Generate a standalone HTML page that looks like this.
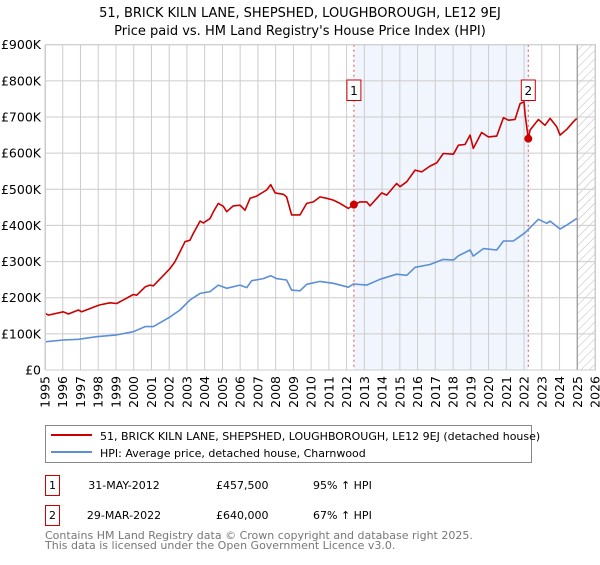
<!DOCTYPE html>
<html><head><meta charset="utf-8"><style>
body{margin:0;background:#fff;font-family:"Liberation Sans","DejaVu Sans",sans-serif;}
svg text{font-family:"DejaVu Sans","Liberation Sans",sans-serif;}
</style></head><body>
<svg id="c" width="600" height="560" viewBox="0 0 600 560" xmlns="http://www.w3.org/2000/svg">
<text x="300" y="17" text-anchor="middle" font-size="13" fill="#000">51, BRICK KILN LANE, SHEPSHED, LOUGHBOROUGH, LE12 9EJ</text>
<text x="300" y="35" text-anchor="middle" font-size="13" fill="#000">Price paid vs. HM Land Registry's House Price Index (HPI)</text>
<defs><pattern id="h" width="6" height="6" patternUnits="userSpaceOnUse" patternTransform="rotate(45)"><line x1="0" y1="0" x2="0" y2="6" stroke="#bbb" stroke-width="1"/></pattern></defs>
<g id="grid"></g><g id="marks"></g>
<g>
<rect x="45.5" y="425.5" width="486" height="37" fill="#fff" stroke="#888"/>
<line x1="51" y1="435" x2="92" y2="435" stroke="#cc0000" stroke-width="2"/>
<text x="100" y="440" font-size="11">51, BRICK KILN LANE, SHEPSHED, LOUGHBOROUGH, LE12 9EJ (detached house)</text>
<line x1="51" y1="452" x2="92" y2="452" stroke="#5b8fd6" stroke-width="2"/>
<text x="100" y="457" font-size="11">HPI: Average price, detached house, Charnwood</text>
</g>
<g font-size="11">
<rect x="45.5" y="475.5" width="14" height="20" fill="#fff" stroke="#cc0000"/>
<text x="52.5" y="489" text-anchor="middle">1</text>
<text x="124" y="489" text-anchor="middle">31-MAY-2012</text>
<text x="216" y="489">£457,500</text>
<text x="313" y="489">95% ↑ HPI</text>
<rect x="45.5" y="505.5" width="14" height="20" fill="#fff" stroke="#cc0000"/>
<text x="52.5" y="519" text-anchor="middle">2</text>
<text x="124" y="519" text-anchor="middle">29-MAR-2022</text>
<text x="216" y="519">£640,000</text>
<text x="313" y="519">67% ↑ HPI</text>
</g>
<text x="45" y="539" font-size="11" fill="#777">Contains HM Land Registry data © Crown copyright and database right 2025.</text>
<text x="45" y="549" font-size="11" fill="#777">This data is licensed under the Open Government Licence v3.0.</text>
</svg>
<script>
const yTicks=[0,100000,200000,300000,400000,500000,600000,700000,800000,900000];
const yTickLabels=["£0","£100K","£200K","£300K","£400K","£500K","£600K","£700K","£800K","£900K"];
const xYears=[1995,1996,1997,1998,1999,2000,2001,2002,2003,2004,2005,2006,2007,2008,2009,2010,2011,2012,2013,2014,2015,2016,2017,2018,2019,2020,2021,2022,2023,2024,2025,2026];
const redYears=[1995.0,1995.19,1996.03,1996.32,1996.88,1997.07,1997.91,1998.1,1998.66,1999.04,1999.42,1999.98,2000.17,2000.64,2000.92,2001.11,2002.05,2002.33,2002.61,2002.89,2003.17,2003.36,2003.74,2003.93,2004.3,2004.49,2004.77,2005.05,2005.24,2005.61,2005.99,2006.27,2006.56,2006.93,2007.49,2007.72,2007.97,2008.43,2008.62,2008.9,2009.37,2009.75,2010.13,2010.5,2010.88,2011.25,2011.63,2012.1,2012.41,2012.76,2013.13,2013.32,2013.7,2013.98,2014.26,2014.82,2015.01,2015.39,2015.86,2016.23,2016.7,2017.08,2017.45,2018.02,2018.3,2018.67,2018.96,2019.14,2019.61,2019.99,2020.46,2020.84,2021.12,2021.49,2021.78,2022.0,2022.06,2022.24,2022.34,2022.81,2023.18,2023.47,2023.84,2024.03,2024.41,2024.78,2024.97];
const redValues=[157,152,161,155,166,161,177,180,186,184,194,209,207,230,235,233,281,300,327,355,359,378,412,407,419,438,461,453,438,454,456,442,475,481,498,513,490,486,479,429,429,461,465,479,475,470,461,447,457.5,465,465,454,475,490,484,516,507,521,553,548,564,573,599,597,622,624,650,613,657,645,647,698,691,693,737,742,707,640,664,693,677,696,673,650,666,687,696];
const blueYears=[1995.0,1996.03,1996.88,1997.91,1999.04,1999.98,2000.64,2001.11,2002.05,2002.61,2003.17,2003.74,2004.3,2004.77,2005.24,2005.99,2006.37,2006.65,2007.3,2007.72,2008.05,2008.62,2008.9,2009.37,2009.75,2010.5,2011.25,2012.1,2012.38,2013.13,2013.88,2014.82,2015.39,2015.86,2016.7,2017.45,2018.02,2018.3,2018.96,2019.14,2019.71,2020.46,2020.84,2021.4,2022.06,2022.81,2023.28,2023.47,2024.03,2024.41,2024.97];
const blueValues=[78,83,85,92,97,106,120,120,147,166,194,212,217,235,226,235,228,247,253,261,253,249,221,219,237,245,240,229,238,235,251,265,262,284,292,306,304,316,332,315,336,332,357,357,380,417,406,412,390,401,419];
const saleYears=[2012.41,2022.24];
const saleValues=[457.5,640];
const saleLabels=["1","2"];
const NS="http://www.w3.org/2000/svg";
const L=45,R=595,T=44.7,B=370,Y0=1995,Y1=2026,VMAX=900000;
const xs=y=>L+(y-Y0)/(Y1-Y0)*(R-L);
const ys=v=>B-v/VMAX*(B-T);
function mk(tag,a,parent){const e=document.createElementNS(NS,tag);for(const k in a)e.setAttribute(k,a[k]);parent.appendChild(e);return e;}
const g=document.getElementById('grid'),m=document.getElementById('marks');
let e=mk('rect',{x:xs(saleYears[0]),y:T,width:xs(saleYears[1])-xs(saleYears[0]),height:B-T,fill:'#eef3fc',opacity:0.8},g);


e=mk('rect',{x:xs(2025.0),y:T,width:R-xs(2025.0),height:B-T,fill:'url(#h)'},g);


yTicks.forEach((v,i)=>{
 e=mk('line',{x1:L,x2:R,y1:ys(v),y2:ys(v),stroke:'#ccc','stroke-width':1},g);
 
 
 e=mk('text',{x:L-4,y:ys(v)+4.5,'text-anchor':'end','font-size':12.5},g);
 e.textContent=yTickLabels[i];
 
 
});
xYears.forEach(y=>{
 e=mk('line',{x1:xs(y),x2:xs(y),y1:T,y2:B,stroke:'#ccc','stroke-width':1},g);
 
 
 e=mk('text',{x:0,y:0,'text-anchor':'end','font-size':12.5,transform:`translate(${xs(y)+4.5},${B+6}) rotate(-90)`},g);
 e.textContent=String(y);
 
 
});
e=mk('line',{x1:xs(2025.0),x2:xs(2025.0),y1:T,y2:B,stroke:'#999','stroke-width':1.2},g);


saleYears.forEach((y,i)=>{
 e=mk('line',{x1:xs(y),x2:xs(y),y1:T,y2:B,stroke:'#e05050','stroke-width':1,'stroke-dasharray':'2,3'},m);
 
 
});
function path(xa,va,col,name){const d=xa.map((y,i)=>(i?'L':'M')+xs(y).toFixed(1)+','+ys(va[i]*1000).toFixed(1)).join(' ');
 const p=mk('path',{d:d,fill:'none',stroke:col,'stroke-width':1.6,'stroke-linejoin':'round'},m);
 
 }
path(blueYears,blueValues,'#5b8fd6','hpi-line');
path(redYears,redValues,'#cc0000','property-line');
saleYears.forEach((y,i)=>{
 e=mk('circle',{cx:xs(y),cy:ys(saleValues[i]*1000),r:4,fill:'#cc0000'},m);
 
 
 e=mk('rect',{x:xs(y)-7,y:80,width:14,height:20.5,fill:'#fff',stroke:'#cc0000'},m);
 
 
 e=mk('text',{x:xs(y),y:95,'text-anchor':'middle','font-size':12},m);
 e.textContent=saleLabels[i];
 
 
});
e=mk('rect',{x:L+0.5,y:T,width:R-L,height:B-T,fill:'none',stroke:'#ccc'},m);


</script>
</body></html>
